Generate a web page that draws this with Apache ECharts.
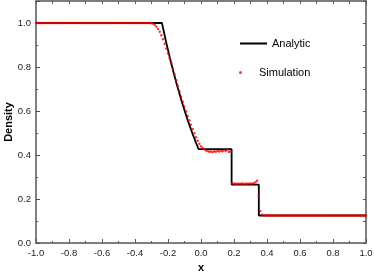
<!DOCTYPE html>
<html><head><meta charset="utf-8">
<script src="https://cdn.jsdelivr.net/npm/echarts@6/dist/echarts.min.js"></script>
<style>html,body{margin:0;padding:0;background:#fff}#c{width:374px;height:277px}</style>
</head><body><div id="c"></div>
<script>
// Analytic solution
const anaX = [-1.0, -0.2366, -0.23, -0.22, -0.21, -0.20, -0.19, -0.18, -0.17, -0.16, -0.15, -0.14, -0.13, -0.12, -0.11, -0.10, -0.09, -0.08, -0.07, -0.06, -0.05, -0.04, -0.03, -0.02, -0.0141, 0.1855, 0.1855, 0.3504, 0.3504, 1.0];
const anaY = [1.0, 1.0, 0.977, 0.943, 0.909, 0.878, 0.846, 0.816, 0.786, 0.758, 0.730, 0.703, 0.677, 0.651, 0.627, 0.603, 0.580, 0.557, 0.536, 0.515, 0.494, 0.475, 0.455, 0.437, 0.4263, 0.4263, 0.2656, 0.2656, 0.125, 0.125];

// Simulation points
const simX = [-1.00,-0.99,-0.98,-0.97,-0.96,-0.95,-0.94,-0.93,-0.92,-0.91,
-0.90,-0.89,-0.88,-0.87,-0.86,-0.85,-0.84,-0.83,-0.82,-0.81,
-0.80,-0.79,-0.78,-0.77,-0.76,-0.75,-0.74,-0.73,-0.72,-0.71,
-0.70,-0.69,-0.68,-0.67,-0.66,-0.65,-0.64,-0.63,-0.62,-0.61,
-0.60,-0.59,-0.58,-0.57,-0.56,-0.55,-0.54,-0.53,-0.52,-0.51,
-0.50,-0.49,-0.48,-0.47,-0.46,-0.45,-0.44,-0.43,-0.42,-0.41,
-0.40,-0.39,-0.38,-0.37,-0.36,-0.35,-0.34,-0.33,-0.32,-0.31,
-0.30,-0.29,-0.28,-0.27,-0.26,-0.25,-0.24,-0.23,-0.22,-0.21,
-0.20,-0.19,-0.18,-0.17,-0.16,-0.15,-0.14,-0.13,-0.12,-0.11,
-0.10,-0.09,-0.08,-0.07,-0.06,-0.05,-0.04,-0.03,-0.02,-0.01,
0.00,0.01,0.02,0.03,0.04,0.05,0.06,0.07,0.08,0.09,
0.10,0.11,0.12,0.13,0.14,0.15,0.16,0.17,0.18,
0.19,0.20,0.21,0.22,0.23,0.24,0.25,0.26,0.27,0.28,0.29,0.30,0.31,0.32,
0.33,0.34,0.35,0.36,0.37,0.38,
0.39,0.40,0.41,0.42,0.43,0.44,0.45,0.46,0.47,0.48,
0.49,0.50,0.51,0.52,0.53,0.54,0.55,0.56,0.57,0.58,
0.59,0.60,0.61,0.62,0.63,0.64,0.65,0.66,0.67,0.68,
0.69,0.70,0.71,0.72,0.73,0.74,0.75,0.76,0.77,0.78,
0.79,0.80,0.81,0.82,0.83,0.84,0.85,0.86,0.87,0.88,
0.89,0.90,0.91,0.92,0.93,0.94,0.95,0.96,0.97,0.98,
0.99,1.00];
const simY = [1,1,1,1,1,1,1,1,1,1,
1,1,1,1,1,1,1,1,1,1,
1,1,1,1,1,1,1,1,1,1,
1,1,1,1,1,1,1,1,1,1,
1,1,1,1,1,1,1,1,1,1,
1,1,1,1,1,1,1,1,1,1,
1,1,1,1,1,1,1,1,1,1,
0.999,0.997,0.991,0.983,0.973,0.960,0.944,0.926,0.906,0.884,
0.862,0.840,0.817,0.792,0.766,0.740,0.714,0.689,0.665,0.642,
0.620,0.598,0.578,0.558,0.538,0.518,0.499,0.481,0.465,0.451,
0.440,0.432,0.426,0.421,0.418,0.415,0.416,0.413,0.417,0.415,
0.419,0.416,0.420,0.417,0.422,0.418,0.423,0.414,0.417,
0.272,0.269,0.270,0.268,0.270,0.269,0.271,0.268,0.270,0.269,0.270,0.271,0.270,0.272,
0.276,0.283,0.215,0.145,0.129,0.126,
0.125,0.125,0.125,0.125,0.125,0.125,0.125,0.125,0.125,0.125,
0.125,0.125,0.125,0.125,0.125,0.125,0.125,0.125,0.125,0.125,
0.125,0.125,0.125,0.125,0.125,0.125,0.125,0.125,0.125,0.125,
0.125,0.125,0.125,0.125,0.125,0.125,0.125,0.125,0.125,0.125,
0.125,0.125,0.125,0.125,0.125,0.125,0.125,0.125,0.125,0.125,
0.125,0.125,0.125,0.125,0.125,0.125,0.125,0.125,0.125,0.125,
0.125,0.125];

const seriesNames = ['Analytic', 'Simulation'];
const xTitle = 'x';
const yTitle = 'Density';

const font = 'Liberation Sans, Arial, sans-serif';
const axisCol = '#555';
const chart = echarts.init(document.getElementById('c'), null, {renderer: 'canvas'});
const hiddenLabel = {show: false};
const legendText = {fontFamily: font, fontSize: 11, color: '#000'};
chart.setOption({
  animation: false,
  backgroundColor: '#fff',
  grid: {left: 36, right: 8, top: 1, bottom: 34, containLabel: false, outerBoundsMode: 'none'},
  legend: [
    {left: 240, top: 38, padding: 0, itemWidth: 27, itemHeight: 2, itemGap: 0,
     textStyle: legendText, selectedMode: false,
     data: [{name: seriesNames[0], icon: 'rect', itemStyle: {color: '#000'}}]},
    {left: 239, top: 67, padding: 0, itemWidth: 27, itemHeight: 3, itemGap: 0,
     textStyle: legendText, selectedMode: false,
     data: [{name: seriesNames[1], icon: 'circle', itemStyle: {color: '#ff0000'}}]}
  ],
  xAxis: [
    {type: 'value', position: 'bottom', min: -1, max: 1, interval: 0.2,
     name: xTitle, nameLocation: 'middle', nameGap: 19, nameMoveOverlap: false,
     nameTextStyle: {fontFamily: font, fontSize: 11, fontWeight: 'bold', color: '#000'},
     axisLine: {show: true, onZero: false, lineStyle: {color: axisCol, width: 1.5}},
     axisTick: {show: true, inside: true, length: 4, lineStyle: {color: axisCol, width: 1}},
     minorTick: {show: true, splitNumber: 2, length: 2, lineStyle: {color: axisCol, width: 1}},
     splitLine: {show: false},
     axisLabel: {fontFamily: font, fontSize: 9.5, color: '#222', margin: 5,
       formatter: v => v.toFixed(1)}},
    {type: 'value', position: 'top', min: -1, max: 1, interval: 0.1,
     axisLine: {show: true, onZero: false, lineStyle: {color: axisCol, width: 1.5}},
     axisTick: {show: true, inside: true, length: 3, lineStyle: {color: axisCol, width: 1}},
     splitLine: {show: false}, axisLabel: hiddenLabel}
  ],
  yAxis: [
    {type: 'value', position: 'left', min: 0, max: 1.1, interval: 0.2,
     name: yTitle, nameLocation: 'middle', nameGap: 22, nameMoveOverlap: false,
     nameTextStyle: {fontFamily: font, fontSize: 11, fontWeight: 'bold', color: '#000'},
     axisLine: {show: true, onZero: false, lineStyle: {color: axisCol, width: 1.5}},
     axisTick: {show: true, inside: true, length: 4, lineStyle: {color: axisCol, width: 1}},
     splitLine: {show: false},
     axisLabel: {fontFamily: font, fontSize: 9.5, color: '#222', margin: 5,
       formatter: v => (v > 1.05 ? '' : v.toFixed(1))}},
    {type: 'value', position: 'left', min: 0, max: 1.1, interval: 0.1,
     axisLine: {show: false, onZero: false},
     axisTick: {show: true, inside: true, length: 2, lineStyle: {color: axisCol, width: 1}},
     splitLine: {show: false}, axisLabel: hiddenLabel},
    {type: 'value', position: 'right', min: 0, max: 1.1, interval: 0.1,
     axisLine: {show: true, onZero: false, lineStyle: {color: axisCol, width: 1.5}},
     axisTick: {show: true, inside: true, length: 3, lineStyle: {color: axisCol, width: 1}},
     splitLine: {show: false}, axisLabel: hiddenLabel}
  ],
  series: [
    {name: seriesNames[0], type: 'line', xAxisIndex: 0, yAxisIndex: 0,
     data: anaX.map((x, i) => [x, anaY[i]]),
     showSymbol: false, symbol: 'none', z: 2,
     lineStyle: {color: '#000', width: 1.8}, itemStyle: {color: '#000'}},
    {name: seriesNames[1], type: 'scatter', xAxisIndex: 0, yAxisIndex: 0,
     data: simX.map((x, i) => [x, simY[i]]),
     symbol: 'circle', symbolSize: 2.4, z: 3,
     itemStyle: {color: '#ff0000'}}
  ]
});
</script>
</body></html>
